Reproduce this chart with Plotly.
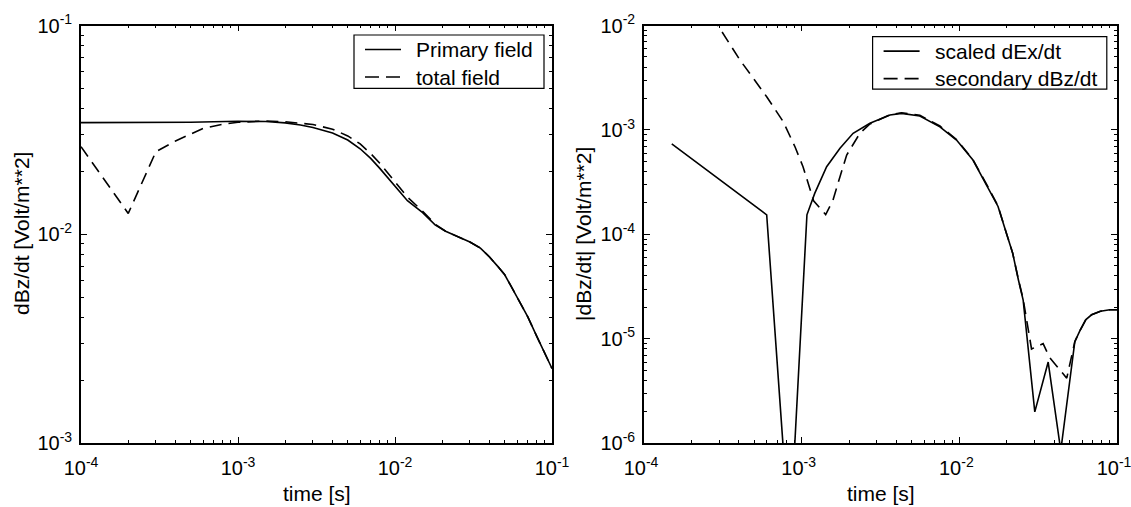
import plotly.graph_objects as go

# ---------------- data ----------------
# left panel
t_primary = [1e-4, 2e-4, 3e-4, 5e-4, 7e-4, 1e-3, 1.5e-3, 2e-3, 2.5e-3, 3e-3, 4e-3, 5e-3,
             6e-3, 7e-3, 8e-3, 9e-3, 1e-2, 1.2e-2, 1.5e-2, 1.8e-2, 2.1e-2, 2.5e-2, 3e-2,
             3.5e-2, 4e-2, 4.5e-2, 5e-2, 6e-2, 7e-2, 8e-2, 9e-2, 1e-1]
primary_field = [0.0343, 0.0343, 0.0343, 0.0344, 0.0346, 0.0348, 0.0347, 0.0342, 0.0334,
                 0.0325, 0.0306, 0.0283, 0.0257, 0.0231, 0.0207, 0.0187, 0.0170, 0.0145,
                 0.0127, 0.0111, 0.01035, 0.00977, 0.0092, 0.0086, 0.0078, 0.00705,
                 0.00641, 0.0050, 0.00404, 0.00325, 0.0027, 0.00228]

t_total = [1e-4, 2e-4, 3e-4, 4e-4, 6e-4, 8e-4, 1e-3, 1.5e-3, 2e-3, 3e-3, 4e-3, 5e-3, 6e-3,
           7e-3, 8e-3, 9e-3, 1e-2, 1.2e-2, 1.5e-2, 1.8e-2, 2.1e-2, 2.5e-2, 3e-2, 3.5e-2,
           4e-2, 4.5e-2, 5e-2, 6e-2, 7e-2, 8e-2, 9e-2, 1e-1]
total_field = [0.0263, 0.0126, 0.0249, 0.0280, 0.0322, 0.0337, 0.0344, 0.0349, 0.0346,
               0.0336, 0.0319, 0.0296, 0.0271, 0.0244, 0.0219, 0.0197, 0.0179, 0.0151,
               0.0129, 0.0112, 0.01035, 0.00977, 0.0092, 0.0086, 0.0078, 0.00705,
               0.00641, 0.0050, 0.00404, 0.00325, 0.0027, 0.00228]

# right panel
t_ex = [1.5e-4, 6.0e-4, 8.4e-4, 1.08e-3, 1.21e-3, 1.44e-3, 1.75e-3, 2.12e-3, 2.71e-3,
        3.63e-3, 4.3e-3, 5.62e-3, 7.53e-3, 9.6e-3, 1.22e-2, 1.53e-2, 1.76e-2, 2.0e-2,
        2.18e-2, 2.37e-2, 2.54e-2, 3.01e-2, 3.66e-2, 4.4e-2, 5.4e-2, 5.82e-2, 6.35e-2,
        6.9e-2, 7.85e-2, 9.0e-2, 1e-1]
scaled_dex = [7.34e-4, 1.54e-4, 1.2e-7, 1.54e-4, 2.47e-4, 4.45e-4, 6.67e-4, 9.29e-4,
              1.16e-3, 1.39e-3, 1.44e-3, 1.36e-3, 1.07e-3, 8.0e-4, 5.15e-4, 2.76e-4,
              1.85e-4, 1.0e-4, 6.6e-5, 3.66e-5, 2.35e-5, 2.0e-6, 6.0e-6, 8.5e-7, 9.4e-6,
              1.2e-5, 1.53e-5, 1.7e-5, 1.84e-5, 1.9e-5, 1.9e-5]

t_bz = [2.0e-4, 2.96e-4, 4.06e-4, 5.0e-4, 6.0e-4, 7.64e-4, 9.07e-4, 1.02e-3, 1.19e-3,
        1.42e-3, 1.58e-3, 1.75e-3, 1.93e-3, 2.34e-3, 2.71e-3, 3.63e-3, 4.3e-3, 5.62e-3,
        7.53e-3, 9.6e-3, 1.22e-2, 1.53e-2, 1.76e-2, 2.0e-2, 2.18e-2, 2.37e-2, 2.54e-2,
        2.87e-2, 3.4e-2, 3.72e-2, 4.8e-2, 5.4e-2, 5.82e-2, 6.35e-2, 6.9e-2, 7.85e-2,
        9.0e-2, 1e-1]
secondary_dbz = [2.5e-2, 9.9e-3, 4.67e-3, 3.04e-3, 2.08e-3, 1.2e-3, 6.9e-4, 4.45e-4,
                 2.1e-4, 1.55e-4, 2.13e-4, 3.57e-4, 5.75e-4, 9.3e-4, 1.14e-3, 1.40e-3,
                 1.46e-3, 1.38e-3, 1.09e-3, 8.1e-4, 5.2e-4, 2.8e-4, 1.87e-4, 1.0e-4,
                 6.6e-5, 3.7e-5, 2.4e-5, 8.0e-6, 9.0e-6, 6.7e-6, 4.2e-6, 9.4e-6, 1.2e-5,
                 1.53e-5, 1.7e-5, 1.84e-5, 1.9e-5, 1.9e-5]

left_names = ["Primary field", "total field"]
right_names = ["scaled dEx/dt", "secondary dBz/dt"]

x_decades = [-4, -3, -2, -1]
y1_decades = [-3, -2, -1]
y2_decades = [-6, -5, -4, -3, -2]

# ---------------- figure ----------------
W, H = 1131, 507
FONT = "Liberation Sans, Arial, sans-serif"
FS = 21
TFS = 20
LINE_W = 1.6
DASH = "12px,7px"


def px_x(p):
    return p / W


def px_y(p):
    return 1 - p / H


def major(decs):
    return [10.0 ** d for d in decs], ["10<sup>%d</sup>" % d for d in decs]


def minor(decs):
    return [k * 10.0 ** d for d in decs[:-1] for k in range(2, 10)]


fig = go.Figure()
fig.add_trace(go.Scatter(x=t_primary, y=primary_field, mode="lines", name=left_names[0],
                         line=dict(color="black", width=LINE_W), xaxis="x", yaxis="y"))
fig.add_trace(go.Scatter(x=t_total, y=total_field, mode="lines", name=left_names[1],
                         line=dict(color="black", width=LINE_W, dash=DASH),
                         xaxis="x", yaxis="y"))
fig.add_trace(go.Scatter(x=t_ex, y=scaled_dex, mode="lines", name=right_names[0],
                         line=dict(color="black", width=LINE_W), xaxis="x2", yaxis="y2"))
fig.add_trace(go.Scatter(x=t_bz, y=secondary_dbz, mode="lines", name=right_names[1],
                         line=dict(color="black", width=LINE_W, dash=DASH),
                         xaxis="x2", yaxis="y2"))


def axis_style(decs, dom, anchor, is_x, shift=0):
    tv, tt = major(decs)
    d = dict(
        type="log", range=[decs[0], decs[-1]], domain=dom, anchor=anchor,
        tickmode="array", tickvals=tv, ticktext=tt,
        ticks="inside", ticklen=6, tickwidth=1.2, tickcolor="black",
        minor=dict(tickmode="array", tickvals=minor(decs), ticks="inside", ticklen=3,
                   tickwidth=1, tickcolor="black", showgrid=False),
        showline=True, linecolor="black", linewidth=1.8, mirror="ticks",
        showgrid=False, zeroline=False,
        tickfont=dict(family=FONT, size=TFS, color="black"),
        automargin=False, fixedrange=True, ticklabeloverflow="allow",
    )
    d["ticklabelstandoff"] = 6 if is_x else 3
    if shift:
        d["ticklabelshift"] = shift
    return d


ydom = [px_y(443.3), px_y(25.5)]
fig.update_layout(
    width=W, height=H,
    margin=dict(l=0, r=0, t=0, b=0),
    paper_bgcolor="white", plot_bgcolor="white",
    font=dict(family=FONT, size=FS, color="black"),
    xaxis=axis_style(x_decades, [px_x(81), px_x(552)], "y", True),
    yaxis=axis_style(y1_decades, ydom, "x", False),
    xaxis2=axis_style(x_decades, [px_x(644), px_x(1117)], "y2", True, shift=-3),
    yaxis2=axis_style(y2_decades, ydom, "x2", False),
    showlegend=False,
)

ann_font = dict(family=FONT, size=FS, color="black")

# axis titles
fig.add_annotation(text="time [s]", x=px_x(316.5), y=px_y(493), xref="paper", yref="paper",
                   showarrow=False, xanchor="center", yanchor="middle", font=ann_font)
fig.add_annotation(text="time [s]", x=px_x(880.5), y=px_y(493), xref="paper", yref="paper",
                   showarrow=False, xanchor="center", yanchor="middle", font=ann_font)
fig.add_annotation(text="dBz/dt [Volt/m**2]", x=px_x(21), y=px_y(234), xref="paper",
                   yref="paper", showarrow=False, textangle=-90, xanchor="center",
                   yanchor="middle", font=ann_font)
fig.add_annotation(text="|dBz/dt| [Volt/m**2]", x=px_x(583), y=px_y(234), xref="paper",
                   yref="paper", showarrow=False, textangle=-90, xanchor="center",
                   yanchor="middle", font=ann_font)


# legends (box, line samples, labels)
def legend_box(x0, x1, y0, y1, names):
    fig.add_shape(type="rect", xref="paper", yref="paper",
                  x0=px_x(x0), x1=px_x(x1), y0=px_y(y1), y1=px_y(y0),
                  line=dict(color="black", width=1.2), fillcolor="white", layer="above")
    rows = [y0 + 14.5, y0 + 42]
    styles = ["solid", "14px,7px"]
    for name, ry, st in zip(names, rows, styles):
        fig.add_shape(type="line", xref="paper", yref="paper",
                      x0=px_x(x0 + 11), x1=px_x(x0 + 47), y0=px_y(ry), y1=px_y(ry),
                      line=dict(color="black", width=LINE_W, dash=st), layer="above")
        fig.add_annotation(text=name, x=px_x(x0 + 60), y=px_y(ry), xref="paper",
                           yref="paper", showarrow=False, xanchor="left",
                           yanchor="middle", font=ann_font)


legend_box(354, 544, 35, 88.3, left_names)
legend_box(872.6, 1106.8, 36.6, 89.2, right_names)

fig.write_html("out.html", config={"displayModeBar": False},
               post_script="document.body.style.margin='0px';")
